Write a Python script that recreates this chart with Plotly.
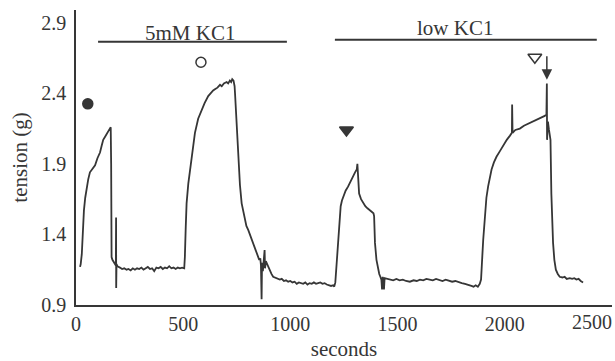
import plotly.graph_objects as go

# ---- data ----
time_s = [
    19, 22, 27, 32, 37, 43, 50, 57, 65, 75, 89, 100, 112, 120, 127, 135, 143, 150, 157, 162,
    164, 166, 170, 174, 180, 186, 187, 187.5, 189, 193, 197, 205, 215, 225, 236,
    245, 255, 265, 275, 285, 295, 305, 315, 325, 335, 345, 355, 365, 375, 385, 395,
    405, 415, 425, 435, 445, 455, 465, 475, 485, 495, 505,
    508, 512, 516, 524, 532, 543, 555, 570, 586, 600, 617, 628, 640, 650, 660, 672,
    680, 690, 703, 710, 718, 724, 729, 735, 740, 742, 746, 750, 757, 765, 773, 785,
    795, 804, 820, 835, 845, 855, 860, 863, 866, 868, 872, 876, 880, 882, 886, 892,
    897, 905, 912, 920, 930, 940, 951, 960, 970, 980, 990, 1000, 1010, 1020, 1030,
    1040, 1050, 1060, 1070, 1080, 1090, 1100, 1110, 1120, 1130, 1140, 1150, 1160,
    1170, 1180, 1190, 1200, 1205, 1210,
    1213, 1218, 1224, 1230, 1235, 1241, 1247, 1258, 1270, 1282, 1293, 1302, 1310,
    1313, 1316, 1321, 1330, 1340, 1350, 1360, 1371, 1380, 1388, 1391, 1395, 1402,
    1410, 1415, 1420, 1425, 1428, 1431, 1434, 1437, 1440, 1450, 1465, 1480, 1495,
    1510, 1525, 1540, 1558, 1575, 1590, 1605, 1620, 1635, 1650, 1665, 1680, 1695,
    1710, 1725, 1740, 1755, 1770, 1785, 1800, 1815, 1830, 1845, 1855, 1865, 1875, 1884,
    1890, 1892, 1896, 1900, 1904, 1908, 1915, 1923, 1930, 1939, 1950, 1962, 1978,
    1993, 2010, 2025, 2034, 2035, 2037, 2050, 2071, 2090, 2105, 2117, 2130, 2145,
    2164, 2175, 2187, 2195, 2197, 2198, 2202, 2207, 2212, 2214, 2218, 2222, 2226,
    2232, 2239, 2248, 2257, 2270, 2280, 2290, 2304, 2315, 2325, 2335, 2345, 2355, 2366,
]
tension_g = [
    1.17, 1.19, 1.26, 1.42, 1.57, 1.66, 1.74, 1.79, 1.84, 1.86, 1.89, 1.94, 1.98, 2.03, 2.07, 2.09, 2.11, 2.12, 2.14, 2.16,
    1.90, 1.24, 1.22, 1.21, 1.19, 1.18, 1.52, 1.02, 1.19, 1.175, 1.17, 1.165, 1.155, 1.16, 1.15,
    1.155, 1.145, 1.16, 1.15, 1.16, 1.155, 1.165, 1.15, 1.16, 1.17, 1.155, 1.16, 1.14, 1.165, 1.16, 1.17,
    1.155, 1.165, 1.16, 1.175, 1.16, 1.165, 1.155, 1.165, 1.16, 1.165, 1.16,
    1.24, 1.45, 1.62, 1.76, 1.86, 2.00, 2.12, 2.22, 2.28, 2.33, 2.38, 2.40, 2.42, 2.43, 2.44, 2.46,
    2.45, 2.47, 2.48, 2.47, 2.49, 2.48, 2.50, 2.49, 2.45, 2.40, 2.28, 2.16, 1.93, 1.75, 1.62, 1.52,
    1.46, 1.43, 1.36, 1.31, 1.26, 1.22, 1.23, 1.18, 0.94, 1.20, 1.14, 1.22, 1.29, 1.16, 1.21, 1.19,
    1.17, 1.14, 1.12, 1.10, 1.095, 1.085, 1.08, 1.085, 1.07, 1.075, 1.065, 1.07, 1.06, 1.065, 1.05,
    1.06, 1.055, 1.05, 1.06, 1.045, 1.055, 1.05, 1.06, 1.05, 1.055, 1.06, 1.05, 1.055,
    1.045, 1.04, 1.035, 1.04, 1.03, 1.06,
    1.12, 1.28, 1.41, 1.52, 1.60, 1.64, 1.67, 1.71, 1.74, 1.78, 1.82, 1.84, 1.86,
    1.90, 1.82, 1.69, 1.65, 1.62, 1.60, 1.585, 1.57, 1.56, 1.55, 1.53, 1.34, 1.22,
    1.15, 1.12, 1.10, 1.08, 1.01, 1.10, 1.04, 1.01, 1.09, 1.085, 1.08, 1.075, 1.085,
    1.075, 1.08, 1.07, 1.065, 1.075, 1.07, 1.08, 1.075, 1.085, 1.08, 1.075, 1.085, 1.075,
    1.07, 1.08, 1.07, 1.065, 1.07, 1.06, 1.055, 1.05, 1.045, 1.035, 1.03, 1.04, 1.03, 1.05,
    1.08, 1.12, 1.25, 1.36, 1.46, 1.55, 1.66, 1.74, 1.80, 1.86, 1.91, 1.95, 1.99,
    2.03, 2.07, 2.10, 2.12, 2.32, 2.12, 2.14, 2.15, 2.17, 2.18, 2.19, 2.20, 2.21,
    2.22, 2.23, 2.24, 2.25, 2.47, 2.07, 2.20, 2.14, 2.10, 2.07, 1.69, 1.50, 1.34,
    1.22, 1.15, 1.12, 1.10, 1.095, 1.10, 1.085, 1.09, 1.085, 1.09, 1.08, 1.085, 1.07, 1.06,
]

x_tick_values = [0, 500, 1000, 1500, 2000, 2500]
x_tick_labels = ["0", "500", "1000", "1500", "2000", "2500"]
y_tick_values = [0.9, 1.4, 1.9, 2.4, 2.9]
y_tick_labels = ["0.9", "1.4", "1.9", "2.4", "2.9"]

treatment_names = ["5mM KC1", "low KC1"]
treatment_start_s = [103, 1208]
treatment_end_s = [984, 2430]
treatment_level_g = [2.765, 2.78]
treatment_label_x = [532, 1770]
treatment_label_y = [2.83, 2.86]

marker_time_s = [55, 583, 1262, 2141]
marker_level_g = [2.325, 2.62, 2.14, 2.655]
marker_symbols = ["circle", "circle-open", "triangle-down", "triangle-down-open"]

arrow_time_s = [2197]
arrow_tip_g = [2.495]

# ---- figure ----
ink = "#363636"
serif = "Liberation Serif"

fig = go.Figure()
fig.add_trace(go.Scatter(x=time_s, y=tension_g, mode="lines",
                         line=dict(color=ink, width=1.8), showlegend=False,
                         hoverinfo="skip"))

for sym, t, v in zip(marker_symbols, marker_time_s, marker_level_g):
    size = 10 if "circle" in sym else 12
    fig.add_trace(go.Scatter(x=[t], y=[v], mode="markers", showlegend=False,
                             marker=dict(symbol=sym, size=size, color=ink,
                                         line=dict(color=ink, width=1.5))))

for name, t0, t1, lvl, lx, ly in zip(treatment_names, treatment_start_s, treatment_end_s,
                                     treatment_level_g, treatment_label_x, treatment_label_y):
    fig.add_shape(type="line", x0=t0, x1=t1, y0=lvl, y1=lvl, xref="x", yref="y",
                  line=dict(color=ink, width=2))
    fig.add_annotation(x=lx, y=ly, text=name, showarrow=False, xref="x", yref="y",
                       font=dict(family=serif, size=21, color=ink))

for t, v in zip(arrow_time_s, arrow_tip_g):
    fig.add_annotation(x=t, y=v, ax=0, ay=-25, text="", showarrow=True,
                       arrowhead=2, arrowsize=1.4, arrowwidth=1.5, arrowcolor=ink,
                       xref="x", yref="y")

# last x tick label sits at the right edge: right-align it so it stays in view
fig.add_annotation(x=x_tick_values[-1], y=0, xref="x", yref="paper",
                   text=x_tick_labels[-1], showarrow=False,
                   xanchor="right", yanchor="top", yshift=-4, xshift=2,
                   font=dict(family=serif, size=20, color=ink))

fig.update_layout(
    width=615, height=361,
    margin=dict(l=76, r=3, t=10, b=56),
    paper_bgcolor="white", plot_bgcolor="white",
    font=dict(family=serif, color=ink),
    xaxis=dict(range=[0, 2501], showline=True, linecolor=ink, linewidth=1.5,
               showgrid=False, zeroline=False, ticks="", automargin=False,
               tickmode="array", tickvals=x_tick_values[:-1],
               ticktext=x_tick_labels[:-1],
               tickfont=dict(family=serif, size=20, color=ink),
               title=dict(text="seconds", font=dict(family=serif, size=21, color=ink),
                          standoff=8)),
    yaxis=dict(range=[0.9, 2.99], showline=True, linecolor=ink, linewidth=1.5,
               showgrid=False, zeroline=False, ticks="", automargin=False,
               tickvals=y_tick_values, ticktext=y_tick_labels,
               tickfont=dict(family=serif, size=20, color=ink),
               ticklabelstandoff=4,
               title=dict(text="tension (g)", font=dict(family=serif, size=21, color=ink),
                          standoff=8)),
)

fig.write_html("out.html")
